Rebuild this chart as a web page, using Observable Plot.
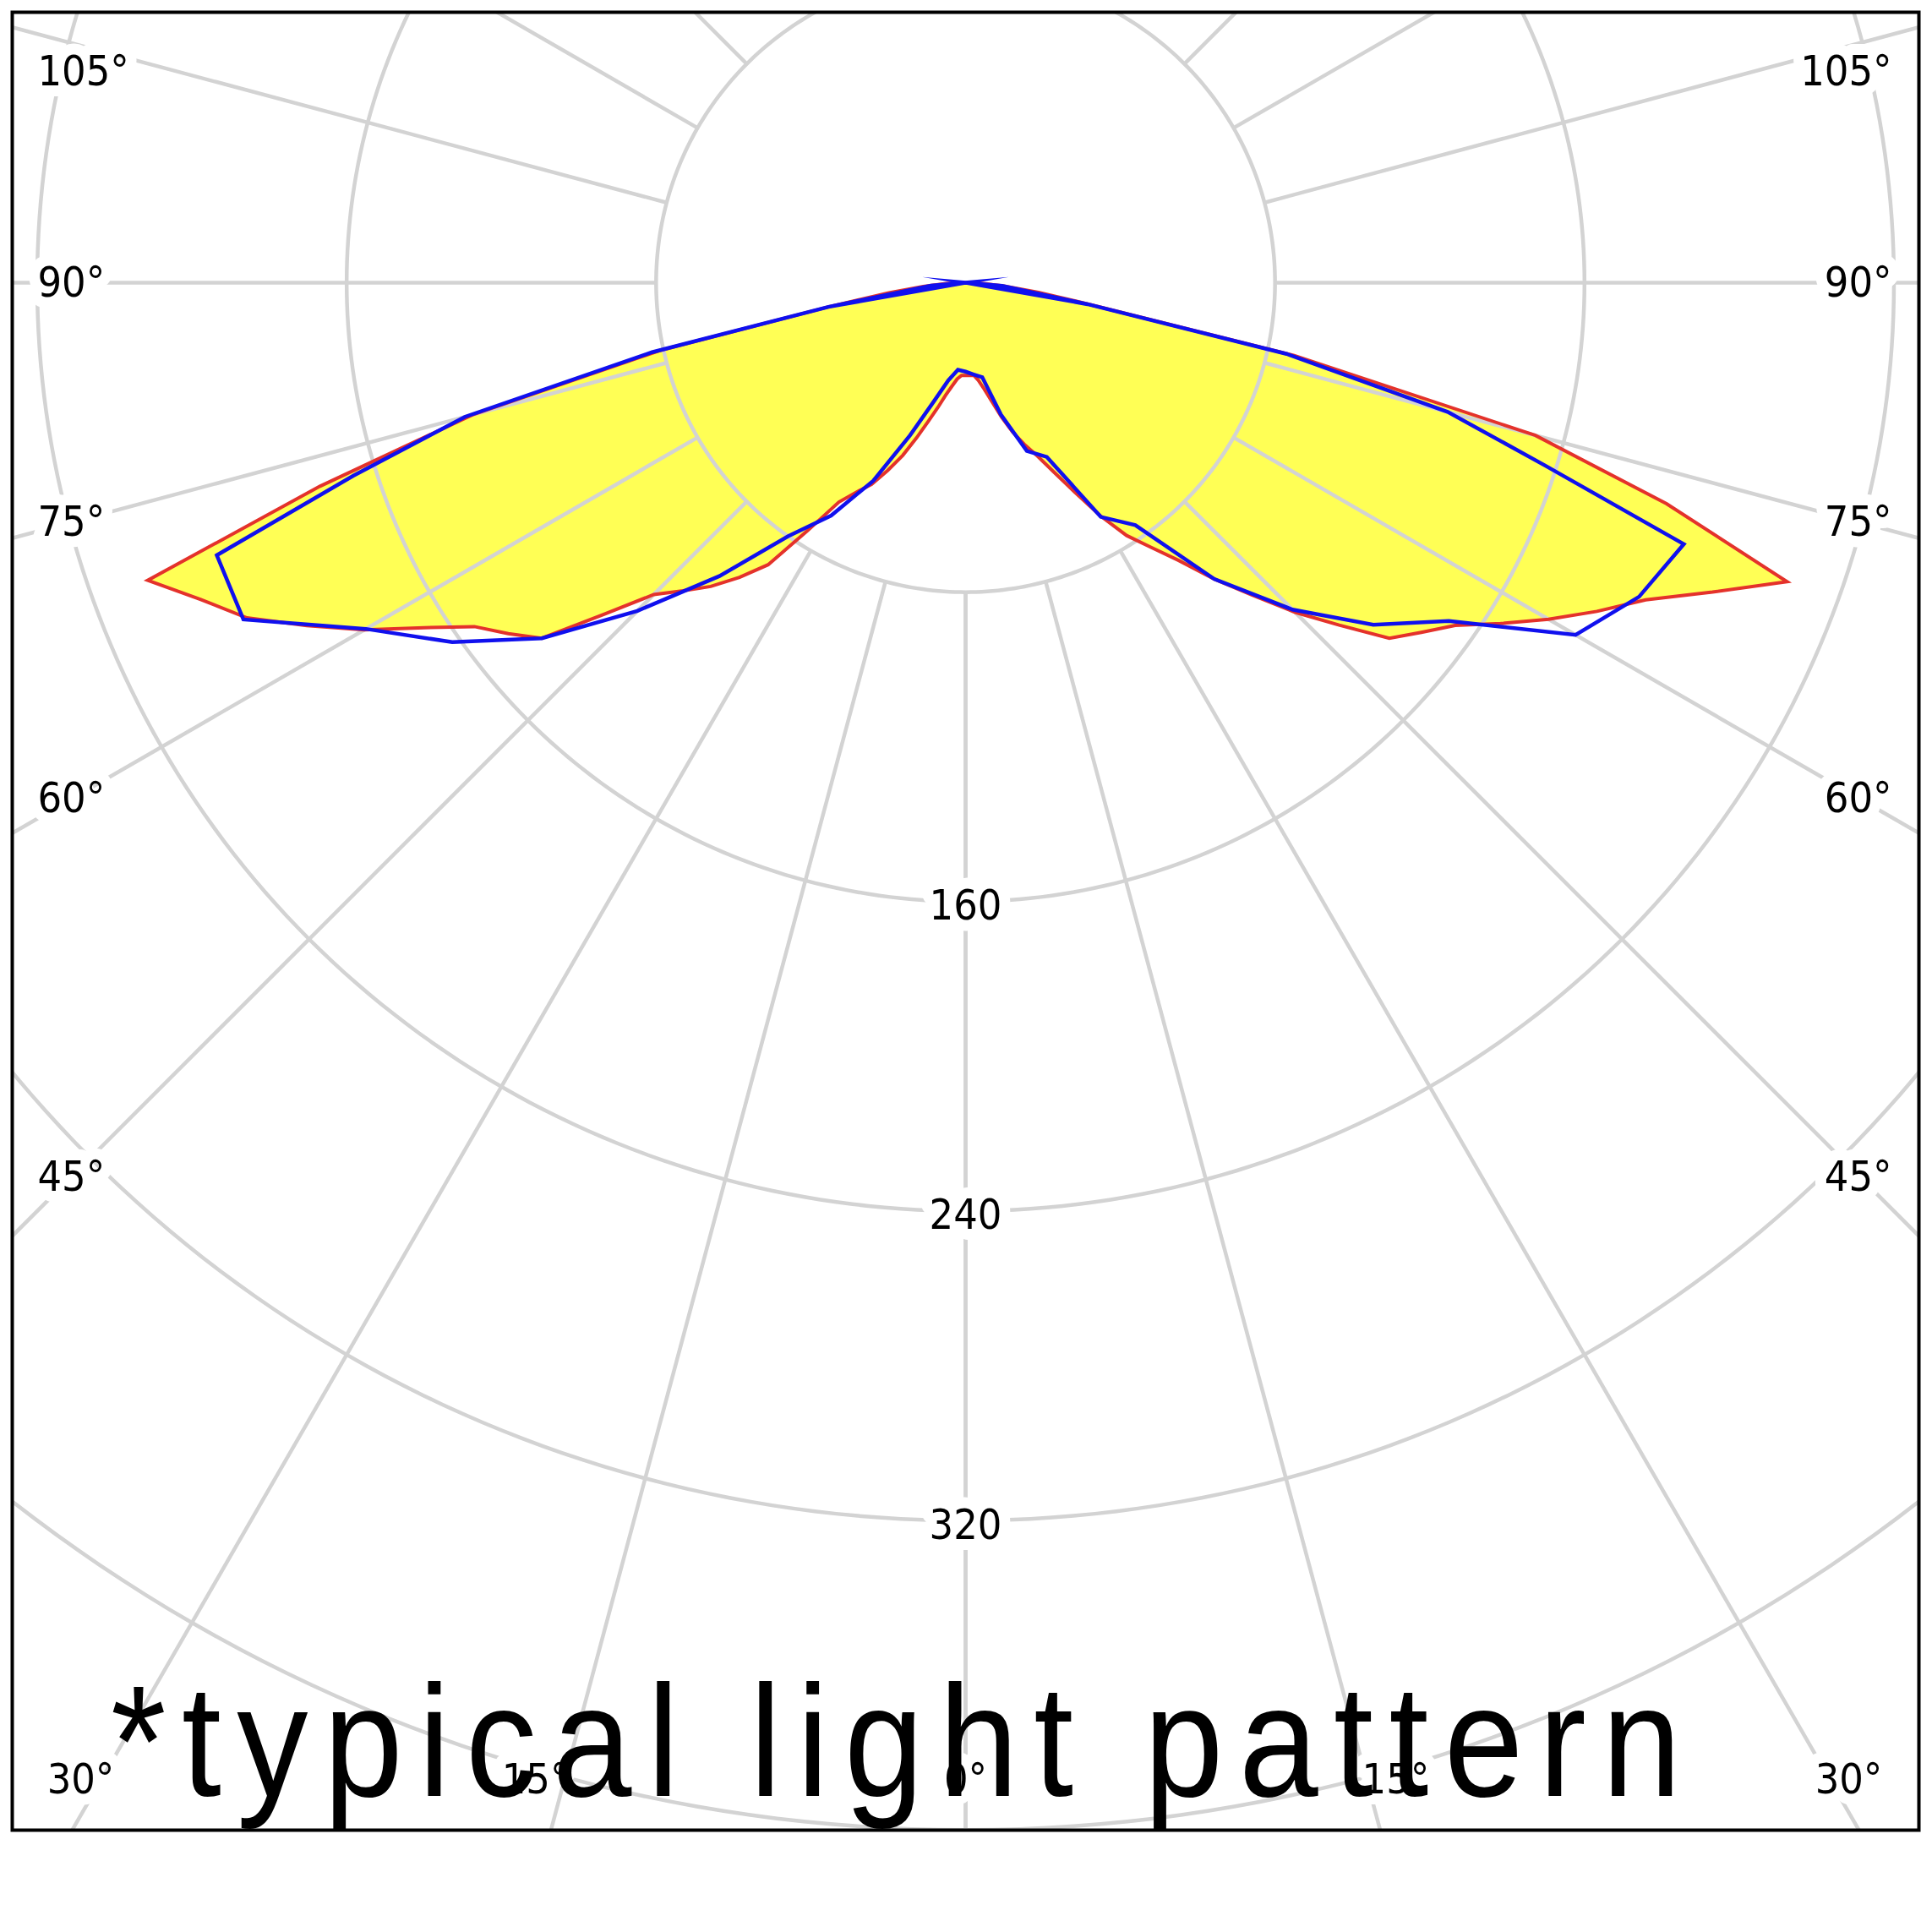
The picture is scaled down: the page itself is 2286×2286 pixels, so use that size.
<!DOCTYPE html>
<html>
<head>
<meta charset="utf-8">
<script src="https://cdn.jsdelivr.net/npm/d3@7"></script>
<script src="https://cdn.jsdelivr.net/npm/@observablehq/plot@0.6"></script>
<style>
  html, body { margin: 0; padding: 0; background: #fff; }
  #chart { width: 2286px; height: 2286px; }
</style>
</head>
<body>
<div id="chart"></div>
<script>
// ---------------- data (luminous intensity) ----------------
const redAngles = [0,2.5,5,7.5,10,12.5,15,17.5,20,22.5,25,27.5,30,32.5,35,37.5,40,42.5,45,47.5,50,52.5,55,57.5,60,62.5,65,67.5,70,72.5,75,77.5,80,82.5,85,87.5,90];
const redLeft  = [24,24,25,27,29.5,33,37,42,47.5,52.5,57.5,61,65.5,76,89,96,102.5,108,114,127,143,149,155,166,179.5,192,205,214,225,175,132,81,36,20,11,5,0];
const redRight = [24,24,24,25.5,28,31.5,36,40.5,44.5,48.5,54,61,69.5,77.5,83.5,90.5,100,109.5,120.5,131,143,148.5,154.5,164,174,184,194,209,226,190,152.5,87,33,19,10,4.5,0];

const blueAngles = [0,5,10,15,20,25,30,35,40,45,50,55,60,65,70,72.5,75,77.5,80,85,90];
const blueLeft  = [23,22.6,25.6,31.8,42,56.5,69.5,80,99,120,143,162,179,206,206,166,134,83,36,9,0];
const blueRight = [23,23.8,24.8,35.3,46.3,49.7,69.9,76.5,100,119.5,137.6,152.5,182.1,192.1,197.6,157,129,85,32,9.5,0];

const gridRadii   = [80,160,240,320,400,480];
const gridAngles  = [0,15,30,45,60,75,90,105,120,135,150,165,180];
const radialLabels = [160,240,320];
const sideLabels   = [105,90,75,60,45];
const bottomLabels = [-30,-15,0,15,30];
const caption = "*typical light pattern";

// ---------------- layout ----------------
const W = 2286, H = 2286;
const mL = 14, mR = 16, mT = 14, mB = 121;
const K = 4.577;                       // px per cd
const plotW = W - mL - mR;
const cx = mL + plotW / 2, cy = 334;   // pole position (px)
const halfX = plotW / 2 / K;
const yTop = -(cy - mT) / K;
const yBot = (H - mB - cy) / K;

const rad = d => d * Math.PI / 180;
const pt = (a, v, side) => ({x: side * v * Math.sin(rad(a)), y: v * Math.cos(rad(a))});

// red closed curve: left half 0→90, right half 90→0
const redL = redAngles.map((a, i) => pt(a, redLeft[i], -1));
const redR = redAngles.map((a, i) => pt(a, redRight[i], 1));
const redPath = [...redL, ...redR.slice(1, -1).reverse()];

// blue curve as one path (left half reversed, then right half)
const bL = blueAngles.map((a, i) => pt(a, blueLeft[i], -1));
const bR = blueAngles.map((a, i) => pt(a, blueRight[i], 1));
const i80 = blueAngles.indexOf(80);
const bluePath = [bL[i80], ...bL.slice().reverse(), ...bR.slice(1), bR[i80]];

// grid
const circlePts = gridRadii.flatMap(r => d3.range(0, 361, 1).map(t => ({r, x: r * Math.sin(rad(t)), y: r * Math.cos(rad(t))})));
const spokes = gridAngles.flatMap(a => [-1, 1].map(s => ({a, s})));
const r0 = gridRadii[0], rOut = 800;

// label placement
const labelCX = (cx - 84) / K;               // distance of side-label centre from pole
const yClampTop = (84 - cy) / K;
const sideY = a => Math.max(yClampTop, labelCX / Math.tan(rad(a)));
const xMin = (95 - cx) / K, xMax = (2187 - cx) / K;
const bottomX = a => Math.min(xMax, Math.max(xMin, 415 * Math.tan(rad(a))));

const gridStroke = "#d3d3d3";
const labelFont = "'DejaVu Sans Condensed', 'DejaVu Sans', sans-serif";
const halo = {stroke: "white", strokeWidth: 26, paintOrder: "stroke", strokeLinejoin: "round", fill: "black",
              fontSize: 50, fontFamily: labelFont, lineAnchor: "middle"};

const plot = Plot.plot({
  width: W, height: H,
  marginLeft: mL, marginRight: mR, marginTop: mT, marginBottom: mB,
  x: {domain: [-halfX, halfX], axis: null},
  y: {domain: [yTop, yBot], reverse: true, axis: null},
  style: {background: "white"},
  marks: [
    Plot.line(redPath, {x: "x", y: "y", fill: "#ffff55", stroke: "none", curve: "linear-closed", clip: true}),
    Plot.line(circlePts, {x: "x", y: "y", z: "r", stroke: gridStroke, strokeWidth: 4.5, clip: true}),
    Plot.link(spokes, {
      x1: d => d.s * r0 * Math.sin(rad(d.a)), y1: d => r0 * Math.cos(rad(d.a)),
      x2: d => d.s * rOut * Math.sin(rad(d.a)), y2: d => rOut * Math.cos(rad(d.a)),
      stroke: gridStroke, strokeWidth: 4.5, clip: true
    }),
    Plot.line(redPath, {x: "x", y: "y", stroke: "#e4322b", strokeWidth: 4, curve: "linear-closed",
      strokeLinejoin: "miter", strokeMiterlimit: 8, clip: true}),
    Plot.line(bluePath, {x: "x", y: "y", stroke: "#1010ee", strokeWidth: 4.5,
      strokeLinejoin: "miter", strokeMiterlimit: 30, strokeLinecap: "butt", clip: true}),
    Plot.text(sideLabels, {y: a => sideY(a), text: a => `${a}°`, frameAnchor: "left", dx: 30, textAnchor: "start", ...halo}),
    Plot.text(sideLabels, {y: a => sideY(a), text: a => `${a}°`, frameAnchor: "right", dx: -32, textAnchor: "end", ...halo}),
    Plot.text(bottomLabels, {x: a => bottomX(a), text: a => `${Math.abs(a)}°`, frameAnchor: "bottom", dy: -60, textAnchor: "middle", ...halo}),
    Plot.text(radialLabels, {x: 0, y: r => r + 1.2, text: r => String(r), textAnchor: "middle", ...halo}),
    Plot.frame({stroke: "black", strokeWidth: 4}),
    Plot.text([caption], {text: d => d, frameAnchor: "bottom-left", fontSize: 187,
      fontFamily: "'Liberation Sans', Arial, sans-serif", textAnchor: "start", lineAnchor: "bottom",
      fill: "black"})
  ]
});

// caption: condensed glyphs spread to the measured width
for (const t of plot.querySelectorAll("text")) {
  if (t.textContent === caption) {
    const g = t.parentNode;
    if (g && g.removeAttribute) g.removeAttribute("transform");
    t.removeAttribute("x"); t.removeAttribute("y");
    t.setAttribute("transform", "translate(131,2125) scale(0.9,1)");
    t.setAttribute("textLength", String(1858 / 0.9));
    t.setAttribute("lengthAdjust", "spacing");
  }
}
document.getElementById("chart").appendChild(plot);
</script>
</body>
</html>
